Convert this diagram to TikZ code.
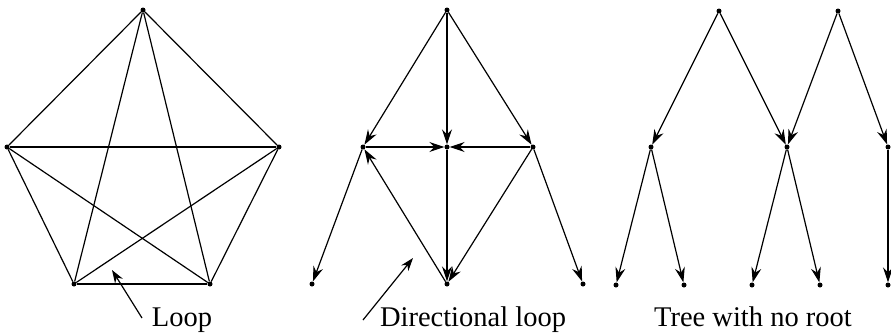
\documentclass[tikz,border=0pt]{standalone}
\usepackage{fontspec}
\setmainfont{Liberation Serif}
\usetikzlibrary{arrows.meta}

\begin{document}
\begin{tikzpicture}[x=1pt, y=-1pt,
  dot/.style={circle, fill, inner sep=0pt, minimum size=5pt},
  edge/.style={line width=1.2pt},
  arc/.style={line width=1.2pt, -{Stealth[length=15pt, width=10pt, inset=5pt]}},
  pointer/.style={line width=1.2pt, -{Stealth[length=13pt, width=9pt, inset=4pt]}},
  lbl/.style={anchor=base, inner sep=0pt, font=\fontsize{28.5}{32}\selectfont}
]
  \useasboundingbox (0,0) rectangle (891,335);

  % complete graph on five points
  \node[dot] (p1) at (143,10) {};
  \node[dot] (p2) at (279,147) {};
  \node[dot] (p3) at (210,284) {};
  \node[dot] (p4) at (74,284) {};
  \node[dot] (p5) at (7,147) {};
  \foreach \a/\b in {p1/p2, p1/p3, p1/p4, p1/p5, p2/p3, p2/p4, p2/p5, p3/p4, p3/p5, p4/p5}
    \draw[edge] (\a) -- (\b);

  \node[lbl] (looplbl) at (182,326) {Loop};
  \coordinate (loopfoot) at (142,318);
  \coordinate (looptip) at (112,270);
  \draw[pointer] (loopfoot) -- (looptip);

  % directed graph with a loop
  \node[dot] (d0) at (447,10) {};
  \node[dot] (dl) at (363,147) {};
  \node[dot] (dc) at (447,147) {};
  \node[dot] (dr) at (533,147) {};
  \node[dot] (bl) at (312,284) {};
  \node[dot] (bc) at (447,284) {};
  \node[dot] (br) at (583,284) {};
  \draw[arc] (d0) -- (dl);
  \draw[arc] (d0) -- (dc);
  \draw[arc] (d0) -- (dr);
  \draw[arc] (dl) -- (dc);
  \draw[arc] (dr) -- (dc);
  \draw[arc] (dc) -- (bc);
  \draw[arc] (dr) -- (bc);
  \draw[arc] (bc) -- (dl);
  \draw[arc] (dl) -- (bl);
  \draw[arc] (dr) -- (br);

  \node[lbl] (dirlbl) at (473,326) {Directional loop};
  \coordinate (dirfoot) at (363,320);
  \coordinate (dirtip) at (413,258);
  \draw[pointer] (dirfoot) -- (dirtip);

  % two roots sharing a child
  \node[dot] (r1) at (719,11) {};
  \node[dot] (r2) at (838,11) {};
  \node[dot] (m1) at (651,147) {};
  \node[dot] (m2) at (787,147) {};
  \node[dot] (m3) at (888,147) {};
  \node[dot] (l1) at (616,285) {};
  \node[dot] (l2) at (684,285) {};
  \node[dot] (l3) at (752,285) {};
  \node[dot] (l4) at (820,285) {};
  \node[dot] (l5) at (888,285) {};
  \foreach \a/\b in {r1/m1, r1/m2, r2/m2, r2/m3, m1/l1, m1/l2, m2/l3, m2/l4, m3/l5}
    \draw[arc] (\a) -- (\b);

  \node[lbl] (treelbl) at (753,326) {Tree with no root};
\end{tikzpicture}
\end{document}
